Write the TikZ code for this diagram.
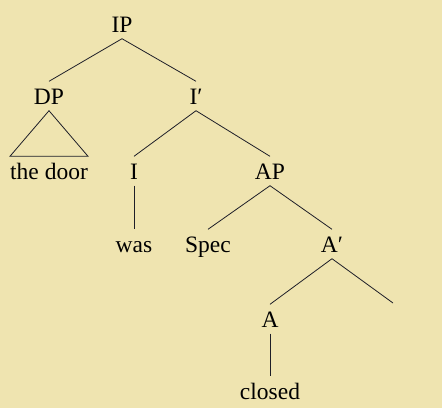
\documentclass[tikz,border=0pt]{standalone}
\usepackage{fontspec}
\setmainfont{Liberation Serif}
\definecolor{paper}{RGB}{239,228,176}
\definecolor{ink}{RGB}{30,30,40}

\begin{document}
\begin{tikzpicture}[
  x=1pt, y=-1pt,
  lbl/.style={anchor=base, inner xsep=0pt, inner ysep=6.5pt,
    text height=16pt, text depth=0pt,
    font=\fontsize{23.5}{28}\selectfont},
  branch/.style={draw=ink, line width=0.8pt},
]

% background
\fill[paper] (0,0) rectangle (442,408);

% labels (placed at their baselines)
\node[lbl] (ip)     at (122,32)  {IP};
\node[lbl] (dp)     at (49,104)  {DP};
\node[lbl] (ibar)   at (196,104) {I′};
\node[lbl] (door)   at (49,179)  {the door};
\node[lbl] (infl)   at (134,179) {I};
\node[lbl] (ap)     at (270,179) {AP};
\node[lbl] (was)    at (134,252) {was};
\node[lbl] (spec)   at (208,252) {Spec};
\node[lbl] (abar)   at (332,252) {A′};
\node[lbl] (adj)    at (270,327) {A};
\node[lbl] (closed) at (270,399) {closed};
\coordinate (empty) at (393,303);

% branches
\draw[branch] (ip.south) -- (dp.north);
\draw[branch] (ip.south) -- (ibar.north);
\draw[branch] (dp.south) -- (door.north west) -- (door.north east) -- cycle;
\draw[branch] (ibar.south) -- (infl.north);
\draw[branch] (ibar.south) -- (ap.north);
\draw[branch] (infl.south) -- (was.north);
\draw[branch] (ap.south) -- (spec.north);
\draw[branch] (ap.south) -- (abar.north);
\draw[branch] (abar.south) -- (adj.north);
\draw[branch] (abar.south) -- (empty);
\draw[branch] (adj.south) -- (closed.north);

\end{tikzpicture}
\end{document}
